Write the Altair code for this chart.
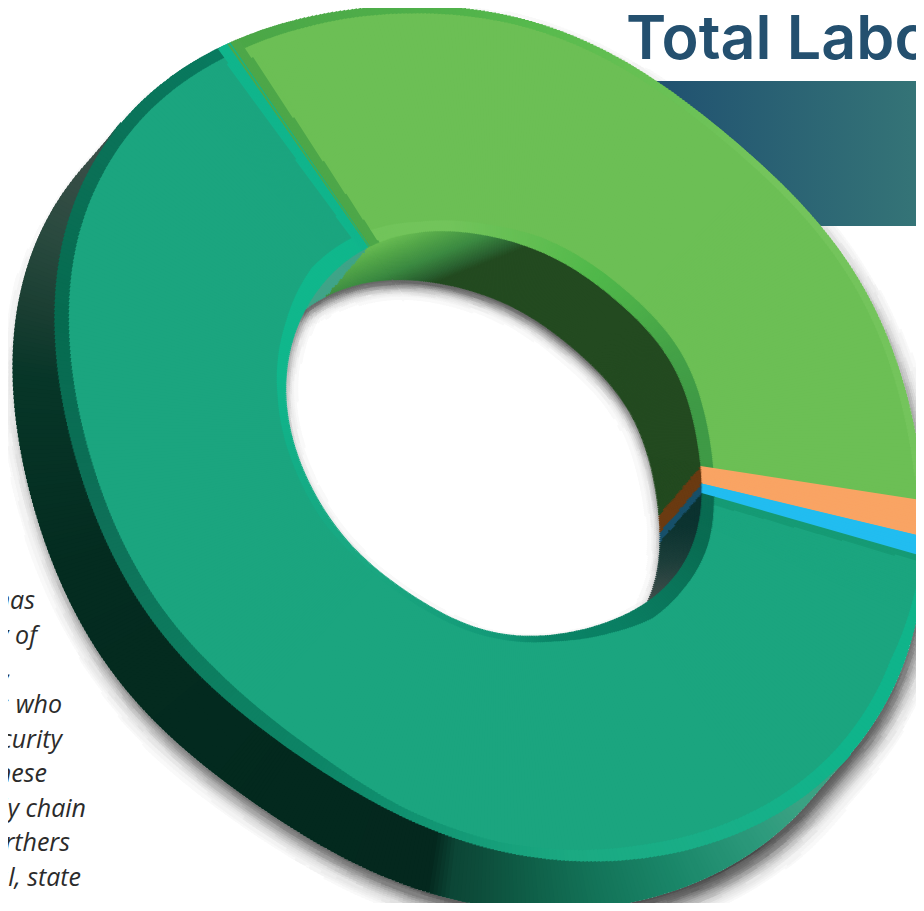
import math
import numpy as np
import pandas as pd
import altair as alt

alt.data_transformers.disable_max_rows()

# ---- chart values -------------------------------------------------------
slice_names = ["Green", "Orange", "Blue", "Teal"]
slice_values = [37.1, 1.3, 0.7, 60.9]
face_colors = ["#6CBF55", "#F9A464", "#22BDF0", "#1BA57F"]
wall_colors = ["#234A20", "#6B3B12", "#17506A", "#0C3330"]
title_text = "Total Labo"
side_lines = ["has", "y of", ",", "s who", "curity", "hese", "ly chain", "rthers", "al, state"]
side_right = [35, 37, 12, 62, 62, 47, 86, 70, 81]
side_base = [609, 644, 678, 713, 748, 782, 817, 851, 886]

# ---- drawing geometry (page pixels) -------------------------------------
CX, CY = 499.0, 435.0
START = 325.2
DX, DY = -42.0, 49.0
OUTER = [(225,45),(300,22),(370,9),(420,5),(480,6),(540,25),(600,53),(653,81),(733,133),(817,223),
         (843,260),(869,300),(899,360),(916,420),(922,480),(925,525),(923,560),(919,600),(909,650),
         (887,700),(865,740),(820,783),(793,807),(700,843),(600,862),(500,853),(400,815),(300,755),
         (200,678),(120,570),(100,517),(73,457),(58,390),(55,323),(60,273),(73,207),(100,150),(133,107)]
HOLE = [(367,248),(400,236),(440,231),(493,237),(540,252),(590,280),(640,323),(673,367),(693,420),
        (700,463),(702,478),(700,493),(697,530),(680,570),(653,597),(638,607),(603,623),(547,636),(503,633),
        (437,610),(387,577),(337,527),(297,453),(287,383),(290,353),(300,320),(313,297),(337,270)]
RIM_OUT = [(0,7),(45,7),(95,8),(100,4),(107,4),(112,8),(120,14),(160,14),(180,9),(195,9),(210,13),
           (231,16),(258,15),(285,15),(303,14),(315,12),(325,11),(340,8),(360,7)]
RIM_IN = [(0,12),(12,14),(30,14),(50,14),(65,14),(82,13),(95,13),(107,13),(118,15),(130,15),(140,17),
          (150,12),(165,7),(180,6),(205,6),(225,5),(245,8),(262,8),(280,9),(298,13),(312,19),(325,16),
          (340,11),(360,12)]
GREEN_RIM_OUT = [(0,"#4BA647"),(25,"#4FB04A"),(40,"#57BA4D"),(55,"#66C053"),(80,"#74C45C"),(134,"#74C45C")]
GREEN_RIM_IN = [(0,"#72C45B"),(21,"#72C45B"),(45,"#62BE52"),(66,"#50B84A"),(83,"#4CAE49"),(98,"#45A247"),
                (116,"#3F9A46"),(134,"#3F9A46")]
TEAL_RIM_OUT = [(106,"#10B48A"),(130,"#0FB48B"),(150,"#18AF88"),(170,"#1BAA82"),(195,"#10906F"),
                (210,"#0D8466"),(231,"#0D7E60"),(258,"#0E7058"),(285,"#066B50"),(303,"#0A7056"),(325,"#097B60")]
TEAL_RIM_IN = [(106,"#0B6B52"),(118,"#096C52"),(130,"#0A7459"),(148,"#0A7F63"),(165,"#0A8466"),(180,"#139A78"),
               (221,"#1BA680"),(248,"#17AA84"),(269,"#12B088"),(286,"#10B78C"),(325,"#10B78C")]
SIDE_WALL = [(106,"#3AA283"),(141,"#3AA283"),(147,"#2D9A7C"),(158,"#1A8769"),(168,"#137358"),(176,"#0F5F48"),
             (183.7,"#0D4A39"),(186,"#0C4636"),(189,"#04281E"),(208.6,"#03291E"),(253,"#042C20"),(277,"#073628"),
             (285,"#1A3E32"),(294,"#2A4A3F"),(308,"#3F4F4A"),(330,"#3F4F4A")]
GREEN_WALL = [(0,"#234A20"),(8,"#2A6030"),(25,"#3C8A42"),(45,"#55A84A"),(60,"#6CBF55"),(200,"#6CBF55")]
TEAL_WALL = [(525,"#0C3330"),(560,"#1C3E3A"),(600,"#414F4C"),(700,"#414F4C")]
BAND_GREEN = ((245,47),(372,232),(600,200))
BAND_TEAL = ((227,63),(353,240),(300,500))
BAND_BLUE = ((713,505),(920,562),(600,700))


def rgb(h):
    return tuple(int(h[i:i + 2], 16) for i in (1, 3, 5))


def ramp(stops, v):
    if v <= stops[0][0]:
        return stops[0][1]
    for (a, ca), (b, cb) in zip(stops, stops[1:]):
        if v <= b:
            t = (v - a) / (b - a) if b > a else 0
            pa, pb = rgb(ca), rgb(cb)
            return "#%02X%02X%02X" % tuple(int(round(x + (y - x) * t)) for x, y in zip(pa, pb))
    return stops[-1][1]


def polar(x, y):
    return math.degrees(math.atan2(x - CX, -(y - CY))) % 360, math.hypot(x - CX, y - CY)


ANG = np.arange(3600) / 10


def outline_table(points, order, lam):
    th = np.radians([polar(*p)[0] for p in points])
    r = np.array([polar(*p)[1] for p in points])

    def design(t):
        cols = [np.ones_like(t)]
        for k in range(1, order + 1):
            cols += [np.cos(k * t), np.sin(k * t)]
        return np.column_stack(cols)

    A = design(th)
    reg = np.eye(A.shape[1]) * lam
    reg[0, 0] = 0
    coef = np.linalg.solve(A.T @ A + reg, A.T @ r)
    return design(np.radians(ANG)) @ coef


TAB_O = outline_table(OUTER, 6, 0.02)
TAB_H = outline_table(HOLE, 7, 0.005)


def shifted_table(tab, s):
    x = CX + tab * np.sin(np.radians(ANG)) + s * DX
    y = CY - tab * np.cos(np.radians(ANG)) + s * DY
    t = np.degrees(np.arctan2(x - CX, -(y - CY))) % 360
    r = np.hypot(x - CX, y - CY)
    order = np.argsort(t)
    return np.interp(ANG, t[order], r[order], period=360)


TAB_OPEN = np.minimum(TAB_H, shifted_table(TAB_H, 1.0))
TAB_SIL = TAB_O.copy()
for s in np.linspace(0, 1, 60):
    TAB_SIL = np.maximum(TAB_SIL, shifted_table(TAB_O, s))
L_O, L_H, L_OPEN, L_SIL = TAB_O.tolist(), TAB_H.tolist(), TAB_OPEN.tolist(), TAB_SIL.tolist()


def look(tab, th):
    return tab[int(th * 10 + 0.5) % 3600]


cum = np.concatenate([[0], np.cumsum(slice_values)])
total = float(cum[-1])
bounds = [(START + c / total * 360) for c in cum]


def slice_of(th):
    g = (th - START) % 360
    for i in range(len(slice_values)):
        if g < (bounds[i + 1] - START):
            return i
    return len(slice_values) - 1


def side(line, x, y):
    (ax, ay), (bx, by), (ix, iy) = line
    a = (bx - ax) * (y - ay) - (by - ay) * (x - ax)
    b = (bx - ax) * (iy - ay) - (by - ay) * (ix - ax)
    return a * b > 0   # True = same side as the interior point


def ray_hit(line, th):
    (ax, ay), (bx, by), _ = line
    sx, sy = math.sin(math.radians(th)), -math.cos(math.radians(th))
    ex, ey = bx - ax, by - ay
    den = sx * ey - sy * ex
    if abs(den) < 1e-9:
        return None
    r = ((ax - CX) * ey - (ay - CY) * ex) / den
    return r if r > 0 else None


KERNEL = [(0.0, 0.0)] + [(rad * math.cos(a * math.pi / 6 + rad), rad * math.sin(a * math.pi / 6 + rad))
                         for rad in (0.2, 0.4, 0.6, 0.8, 1.0) for a in range(12)]


def frac_inside(tab, x, y, radius):
    n = 0
    for kx, ky in KERNEL:
        t, r = polar(x + kx * radius, y + ky * radius)
        if r < look(tab, t):
            n += 1
    return n / len(KERNEL)


def wall_color(x, y):
    for k in range(1, 42):
        s = k / 40
        qx, qy = x - s * DX, y - s * DY
        t, r = polar(qx, qy)
        if r >= look(L_H, t):
            break
    i = slice_of(t)
    if i == 0:
        gs = (-0.364) * (x - 440) + (-0.931) * (y - 281)
        return ramp(GREEN_WALL, max(gs, 0))
    if i == 3:
        if x < 430:
            return "#3FA488"
        return ramp(TEAL_WALL, y)
    return wall_colors[i]


def face_color(th, r, x, y, fin, fout):
    i = slice_of(th)
    g = (th - START) % 360
    if i == 0:
        if not side(BAND_GREEN, x, y):
            return "#4DA749"
        if r < fin:
            return ramp(GREEN_RIM_IN, g)
        if r > fout:
            return ramp(GREEN_RIM_OUT, g)
        return face_colors[0]
    if i == 3:
        if th > 290 and not side(BAND_TEAL, x, y):
            return "#10B58C"
        if r < fin:
            return ramp(TEAL_RIM_IN, th)
        if r > fout:
            return ramp(TEAL_RIM_OUT, th)
        if th < 130 and not side(BAND_BLUE, x, y):
            return "#169B75"
        return face_colors[3]
    return face_colors[i]


edges = set(np.round(np.arange(START, START + 360.01, 0.5), 3).tolist())
for lo, hi in ((-8, 8), (98, 114)):
    base = START if lo < 0 else 0
    for v in np.arange(lo, hi, 0.25):
        a = base + v
        if a < START:
            a += 360
        edges.add(round(a, 3))
for b in bounds:
    edges.add(round(b, 3))
edges = sorted(edges)
clean = [edges[0]]
for e in edges[1:]:
    if e - clean[-1] > 0.05:
        clean.append(e)
edges = clean

rows_main, rows_shadow = [], []
OVERLAP_PCT = 0.11   # each wedge runs under the next so no seam shows
OVERLAP_R = 0.9


def push(store, t0, t1, r0, r1, col):
    if store and store[-1]["fill"] == col and store[-1]["t0"] == t0 and abs(store[-1]["raw"] - r0) < 1e-6:
        store[-1]["raw"] = r1
        store[-1]["r1"] = round(r1, 2)
        return
    if store and store[-1]["t0"] == t0 and abs(store[-1]["raw"] - r0) < 1e-6:
        store[-1]["r1"] = round(store[-1]["raw"] + OVERLAP_R, 2)
    store.append({"t0": t0, "t1": round(t1 + OVERLAP_PCT, 4), "r0": round(r0, 2), "r1": round(r1, 2), "raw": r1, "fill": col})


for e0, e1 in zip(edges, edges[1:]):
    th = ((e0 + e1) / 2) % 360
    p0 = round((e0 - START) / 3.6, 4)
    p1 = round((e1 - START) / 3.6, 4)
    ro, rh, rop, rsil = look(L_O, th), look(L_H, th), look(L_OPEN, th), look(L_SIL, th)
    fout = ro - float(np.interp(th, *zip(*RIM_OUT)))
    fin = rh + float(np.interp(th, *zip(*RIM_IN)))
    brk = [rop - 36 + 2 * k for k in range(19)] + [rop, rh, fin, fout, ro, rsil]
    brk += list(np.arange(rop, rh, 1.5)) + [rsil + 2 * k for k in range(1, 26)]
    for ln in (BAND_GREEN, BAND_TEAL, BAND_BLUE):
        h = ray_hit(ln, th)
        if h and rh < h < ro:
            brk.append(h)
    brk = sorted(set(round(float(b), 3) for b in brk))
    sx, sy = math.sin(math.radians(th)), -math.cos(math.radians(th))
    for a, b in zip(brk, brk[1:]):
        if b - a < 0.02:
            continue
        m = (a + b) / 2
        x, y = CX + m * sx, CY + m * sy
        if m < rop:
            out = 1 - frac_inside(L_OPEN, x, y - 9, 20)
            lev = int(255 - out * out * 260)
            lev = 255 - ((255 - max(lev, 100)) // 6) * 6
            if lev < 252:
                push(rows_main, p0, p1, a, b, "#%02X%02X%02X" % (lev, lev, lev))
        elif m < rh:
            push(rows_main, p0, p1, a, b, wall_color(x, y))
        elif m < ro:
            push(rows_main, p0, p1, a, b, face_color(th, m, x, y, fin, fout))
        elif m < rsil:
            push(rows_main, p0, p1, a, b, ramp(SIDE_WALL, th if th > 60 else th + 360))
        else:
            inn = frac_inside(L_SIL, x - 6, y - 16, 26)
            lev = int(255 - (inn ** 1.5) * 210)
            lev = 255 - ((255 - lev) // 6) * 6
            if lev < 252:
                push(rows_shadow, p0, p1, a, b, "#%02X%02X%02X" % (lev, lev, lev))

# the first wedge goes back on top of the overlap left by the last one
rows_main += [dict(r, t1=round(r["t1"] - OVERLAP_PCT, 4)) for r in rows_main if r["t0"] == rows_main[0]["t0"]]

OX, OY = 8, 8
theta_scale = alt.Scale(domain=[0, 100], range=[math.radians(START), math.radians(START) + 2 * math.pi])
radius_scale = alt.Scale(type="linear", domain=[0, 800], range=[0, 800], nice=False, zero=True)


def arcs(rows):
    frame = pd.DataFrame(rows).drop(columns="raw")
    return alt.Chart(frame).mark_arc(opacity=1, strokeWidth=0).encode(
        x=alt.value(CX - OX),
        y=alt.value(CY - OY),
        theta=alt.Theta("t0:Q", scale=theta_scale, stack=None),
        theta2=alt.Theta2("t1:Q"),
        radius=alt.Radius("r1:Q", scale=radius_scale),
        radius2=alt.Radius2("r0:Q"),
        color=alt.Color("fill:N", scale=None),
    )


band = alt.Chart(pd.DataFrame({"a": [0]})).mark_rect(
    color=alt.Gradient(gradient="linear", x1=0, x2=1, y1=0, y2=0,
                       stops=[alt.GradientStop(color="#1F4F70", offset=0),
                              alt.GradientStop(color="#357577", offset=1)])
).encode(x=alt.value(640 - OX), x2=alt.value(924 - OX), y=alt.value(81 - OY), y2=alt.value(226 - OY))

title = alt.Chart(pd.DataFrame({"label": [title_text]})).mark_text(
    align="left", baseline="alphabetic", font="Inter", fontSize=61, fontWeight=600, color="#24506F"
).encode(x=alt.value(626 - OX), y=alt.value(59 - OY), text="label:N")

side_df = pd.DataFrame({"label": side_lines, "x": [v - OX for v in side_right], "y": [v - OY for v in side_base]})
side_text = alt.Chart(side_df).mark_text(
    align="right", baseline="alphabetic", font="Open Sans", fontSize=25, fontStyle="italic", color="#2B2B2B"
).encode(
    x=alt.X("x:Q", scale=None, axis=None),
    y=alt.Y("y:Q", scale=None, axis=None),
    text="label:N",
)

chart = alt.layer(arcs(rows_shadow), band, title, side_text, arcs(rows_main)).properties(
    width=908, height=895, padding=0, autosize=alt.AutoSizeParams(type="none"), background="white"
).configure_view(stroke=None)

chart.save("out.html", embed_options={"renderer": "svg", "actions": False})
